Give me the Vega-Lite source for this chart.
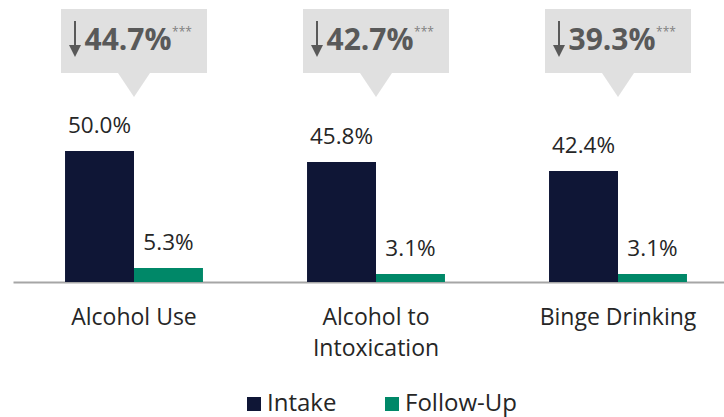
{
  "$schema": "https://vega.github.io/schema/vega-lite/v6.json",
  "width": 711,
  "height": 282,
  "autosize": "none",
  "padding": {"left": 13, "top": 0, "right": 0, "bottom": 135},
  "background": "white",
  "config": {
    "view": {"stroke": null},
    "font": "Open Sans",
    "axisX": {
      "domainColor": "#A6A6A6",
      "domainWidth": 2,
      "ticks": false,
      "grid": false,
      "labelFontSize": 23,
      "labelColor": "#262626",
      "labelPadding": 24,
      "labelLineHeight": 31,
      "labelAngle": 0,
      "title": null,
      "labelExpr": "datum.label == 'Alcohol to Intoxication' ? ['Alcohol to', 'Intoxication'] : datum.label"
    }
  },
  "datasets": {
    "bars": [
      {"Measure": "Alcohol Use", "Time": "Intake", "Value": 50.0},
      {"Measure": "Alcohol Use", "Time": "Follow-Up", "Value": 5.3},
      {"Measure": "Alcohol to Intoxication", "Time": "Intake", "Value": 45.8},
      {"Measure": "Alcohol to Intoxication", "Time": "Follow-Up", "Value": 3.1},
      {"Measure": "Binge Drinking", "Time": "Intake", "Value": 42.4},
      {"Measure": "Binge Drinking", "Time": "Follow-Up", "Value": 3.1}
    ],
    "callouts": [
      {"Measure": "Alcohol Use", "Change": "44.7%"},
      {"Measure": "Alcohol to Intoxication", "Change": "42.7%"},
      {"Measure": "Binge Drinking", "Change": "39.3%"}
    ]
  },
  "layer": [
    {
      "data": {"name": "bars"},
      "mark": {"type": "bar"},
      "encoding": {
        "x": {
          "field": "Measure",
          "type": "nominal",
          "sort": ["Alcohol Use", "Alcohol to Intoxication", "Binge Drinking"],
          "scale": {"paddingInner": 0.43, "paddingOuter": 0.215, "range": [0, 726]},
          "title": null
        },
        "xOffset": {
          "field": "Time",
          "type": "nominal",
          "sort": ["Intake", "Follow-Up"],
          "scale": {"paddingInner": 0, "paddingOuter": 0}
        },
        "y": {
          "field": "Value",
          "type": "quantitative",
          "scale": {"domain": [0, 107.63], "nice": false, "zero": true},
          "axis": null
        },
        "color": {
          "field": "Time",
          "type": "nominal",
          "sort": ["Intake", "Follow-Up"],
          "scale": {"domain": ["Intake", "Follow-Up"], "range": ["#0F1636", "#008868"]},
          "legend": {
            "title": null,
            "orient": "none",
            "direction": "horizontal",
            "legendX": 229,
            "legendY": 392,
            "symbolType": "square",
            "symbolSize": 196,
            "symbolStrokeWidth": 0,
            "labelFontSize": 24,
            "labelColor": "#262626",
            "labelOffset": 1,
            "columnPadding": 43
          }
        }
      }
    },
    {
      "data": {"name": "bars"},
      "mark": {
        "type": "text",
        "baseline": "alphabetic",
        "dy": -18,
        "fontSize": 22.5,
        "color": "#262626",
        "text": {"expr": "format(datum.Value, '.1f') + '%'"}
      },
      "encoding": {
        "x": {"field": "Measure", "type": "nominal", "sort": ["Alcohol Use", "Alcohol to Intoxication", "Binge Drinking"], "title": null},
        "xOffset": {"field": "Time", "type": "nominal", "sort": ["Intake", "Follow-Up"]},
        "y": {"field": "Value", "type": "quantitative", "axis": null}
      }
    },
    {
      "data": {"name": "callouts"},
      "mark": {"type": "bar", "width": 146, "color": "#E0E0E0"},
      "encoding": {
        "x": {"field": "Measure", "type": "nominal", "sort": ["Alcohol Use", "Alcohol to Intoxication", "Binge Drinking"], "title": null},
        "y": {"datum": 104.2, "type": "quantitative", "axis": null},
        "y2": {"datum": 79.8}
      }
    },
    {
      "data": {"name": "callouts"},
      "mark": {"type": "point", "shape": "M-1,0L1,0L0,1.5Z", "size": 1024, "filled": true, "color": "#E0E0E0", "opacity": 1, "strokeWidth": 0},
      "encoding": {
        "x": {"field": "Measure", "type": "nominal", "sort": ["Alcohol Use", "Alcohol to Intoxication", "Binge Drinking"], "title": null},
        "y": {"datum": 79.8, "type": "quantitative", "axis": null}
      }
    },
    {
      "data": {"name": "callouts"},
      "mark": {"type": "text", "fontSize": 30, "fontWeight": "bold", "color": "#595959", "baseline": "middle", "dx": -6},
      "encoding": {
        "x": {"field": "Measure", "type": "nominal", "sort": ["Alcohol Use", "Alcohol to Intoxication", "Binge Drinking"], "title": null},
        "y": {"datum": 92, "type": "quantitative", "axis": null},
        "text": {"field": "Change"}
      }
    },
    {
      "data": {"name": "callouts"},
      "mark": {"type": "rule", "color": "#595959", "strokeWidth": 2, "xOffset": -59},
      "encoding": {
        "x": {"field": "Measure", "type": "nominal", "sort": ["Alcohol Use", "Alcohol to Intoxication", "Binge Drinking"], "title": null},
        "y": {"datum": 99.6, "type": "quantitative", "axis": null},
        "y2": {"datum": 90.1}
      }
    },
    {
      "data": {"name": "callouts"},
      "mark": {"type": "point", "shape": "M-1,0L1,0L0,2Z", "size": 144, "filled": true, "color": "#595959", "opacity": 1, "strokeWidth": 0, "xOffset": -59},
      "encoding": {
        "x": {"field": "Measure", "type": "nominal", "sort": ["Alcohol Use", "Alcohol to Intoxication", "Binge Drinking"], "title": null},
        "y": {"datum": 90.5, "type": "quantitative", "axis": null}
      }
    },
    {
      "data": {"name": "callouts"},
      "mark": {"type": "text", "text": "***", "fontSize": 12, "color": "#7F7F7F", "baseline": "middle", "dx": 48},
      "encoding": {
        "x": {"field": "Measure", "type": "nominal", "sort": ["Alcohol Use", "Alcohol to Intoxication", "Binge Drinking"], "title": null},
        "y": {"datum": 95.5, "type": "quantitative", "axis": null}
      }
    }
  ]
}
